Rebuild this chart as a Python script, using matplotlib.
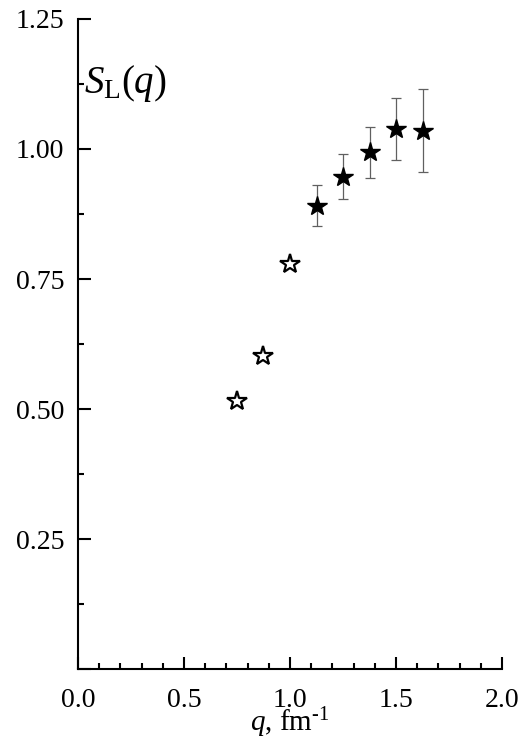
import matplotlib
matplotlib.use('Agg')
import matplotlib.pyplot as plt
from matplotlib.ticker import MultipleLocator, FormatStrFormatter, FuncFormatter

# open stars (no error bars)
q_open = [0.75, 0.875, 1.0]
s_open = [0.515, 0.601, 0.779]

# filled stars with error bars
q_fill = [1.125, 1.25, 1.375, 1.5, 1.625]
s_fill = [0.891, 0.947, 0.994, 1.038, 1.035]
s_err = [0.040, 0.043, 0.049, 0.060, 0.080]

plt.rcParams['font.family'] = ['Liberation Serif', 'DejaVu Serif']
plt.rcParams['mathtext.fontset'] = 'custom'
plt.rcParams['mathtext.rm'] = 'Liberation Serif'
plt.rcParams['mathtext.it'] = 'Liberation Serif:italic'

fig = plt.figure(figsize=(5.29, 7.45), dpi=100)
ax = fig.add_axes([0.1474, 0.102, 0.8016, 0.8725])

ax.errorbar(q_fill, s_fill, yerr=s_err, fmt='none', ecolor='#606060',
            elinewidth=0.9, capsize=3.6, capthick=0.9, zorder=2)
ax.plot(q_fill, s_fill, linestyle='none', marker='*', markersize=15,
        color='black', zorder=3)
ax.plot(q_open, s_open, linestyle='none', marker='*', markersize=15,
        markerfacecolor='white', markeredgecolor='black', markeredgewidth=1.6,
        zorder=3)

ax.set_xlim(0, 2.0)
ax.set_ylim(0, 1.25)
for side in ['top', 'right']:
    ax.spines[side].set_visible(False)
for side in ['left', 'bottom']:
    ax.spines[side].set_linewidth(1.5)

ax.xaxis.set_major_locator(MultipleLocator(0.5))
ax.xaxis.set_minor_locator(MultipleLocator(0.1))
ax.yaxis.set_major_locator(MultipleLocator(0.25))
ax.yaxis.set_minor_locator(MultipleLocator(0.125))
ax.xaxis.set_major_formatter(FormatStrFormatter('%.1f'))
# no label at y = 0
ax.yaxis.set_major_formatter(FuncFormatter(lambda v, p: '' if abs(v) < 1e-9 else f'{v:.2f}'))
ax.tick_params(which='major', direction='in', length=9, width=1.5,
               labelsize=20, pad=14)
ax.tick_params(which='minor', direction='in', length=4.5, width=1.5)
ax.tick_params(axis='y', which='major', pad=10)
ax.tick_params(top=False, right=False, which='both')

ax.set_xlabel(r'$q$, fm$^{\text{-1}}$', fontsize=21, labelpad=-6)
ax.text(0.015, 0.9, r'$S_{\mathrm{L}}(q)$', transform=ax.transAxes,
        fontsize=28, ha='left', va='center')

fig.savefig('out.png', dpi=100)
